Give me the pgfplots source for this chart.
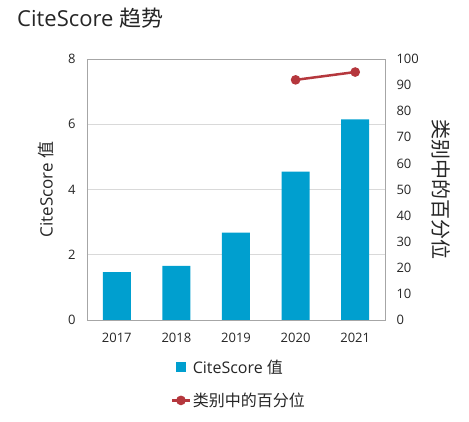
\documentclass[border=0pt]{standalone}
\usepackage{fontspec}
\setmainfont{Open Sans}
\newfontfamily\cjk{Noto Sans CJK SC}
\usepackage{pgfplots}
\pgfplotsset{compat=1.18}
\definecolor{barblue}{HTML}{009FCF}
\definecolor{linered}{HTML}{B5373D}
\definecolor{gridgray}{HTML}{D9D9D9}
\definecolor{framegray}{HTML}{A6A6A6}
\definecolor{txt}{HTML}{262626}
\begin{document}
\begin{tikzpicture}
\path[use as bounding box] (0pt,0pt) rectangle (469pt,422pt);
\node[anchor=west, font=\fontsize{22}{25}\selectfont, text=txt, inner sep=0] at (17pt,404pt) {CiteScore {\cjk 趋势}};
\begin{axis}[
  at={(87pt,102pt)}, anchor=south west, scale only axis,
  width=298pt, height=261pt,
  xmin=-0.5, xmax=4.5, ymin=0, ymax=8,
  xtick={0,1,2,3,4}, xticklabels={2017,2018,2019,2020,2021},
  ytick={0,2,4,6,8},
  ymajorgrids, grid style={gridgray, line width=0.8pt},
  axis line style={framegray, line width=0.8pt},
  major tick length=0pt,
  /pgf/number format/assume math mode=true,
  ticklabel style={font=\fontsize{13}{15}\selectfont, text=txt},
  xticklabel style={yshift=-10pt},
  yticklabel style={xshift=-8pt},
  ylabel={CiteScore {\cjk 值}},
  ylabel style={font=\fontsize{17}{19}\selectfont, text=txt,
    at={(axis description cs:-0.137,0.5)}, anchor=center},
  legend style={at={(0.51,-0.245)}, anchor=center, draw=none, fill=none,
    font=\fontsize{16}{18}\selectfont, text=txt, row sep=14pt},
  legend cell align=left,
]
\addplot[ybar, bar width=28pt, fill=barblue, draw=none,
  legend image code/.code={\fill[barblue] (4pt,-5pt) rectangle (14pt,5pt);}]
  coordinates {(0,1.47) (1,1.66) (2,2.68) (3,4.55) (4,6.15)};
\addlegendentry{CiteScore {\cjk 值}}
\addlegendimage{linered, line width=2.5pt, mark=*, mark size=3.5pt}
\addlegendentry{{\cjk 类别中的百分位}}
\end{axis}
\begin{axis}[
  at={(87pt,102pt)}, anchor=south west, scale only axis,
  width=298pt, height=261pt,
  xmin=-0.5, xmax=4.5, ymin=0, ymax=100,
  axis x line=none, axis y line*=right,
  ytick={0,10,...,100},
  axis line style={framegray, line width=0.8pt, -},
  major tick length=0pt,
  /pgf/number format/assume math mode=true,
  ticklabel style={font=\fontsize{13}{15}\selectfont, text=txt},
  yticklabel style={xshift=8pt},
  ylabel={{\cjk 类别中的百分位}},
  ylabel style={font=\fontsize{20}{22}\selectfont, text=txt, rotate=180,
    at={(axis description cs:1.19,0.5)}, anchor=center},
]
\addplot[linered, line width=2.5pt, mark=*, mark size=3.5pt]
  coordinates {(3,92) (4,95)};
\end{axis}
\end{tikzpicture}
\end{document}
